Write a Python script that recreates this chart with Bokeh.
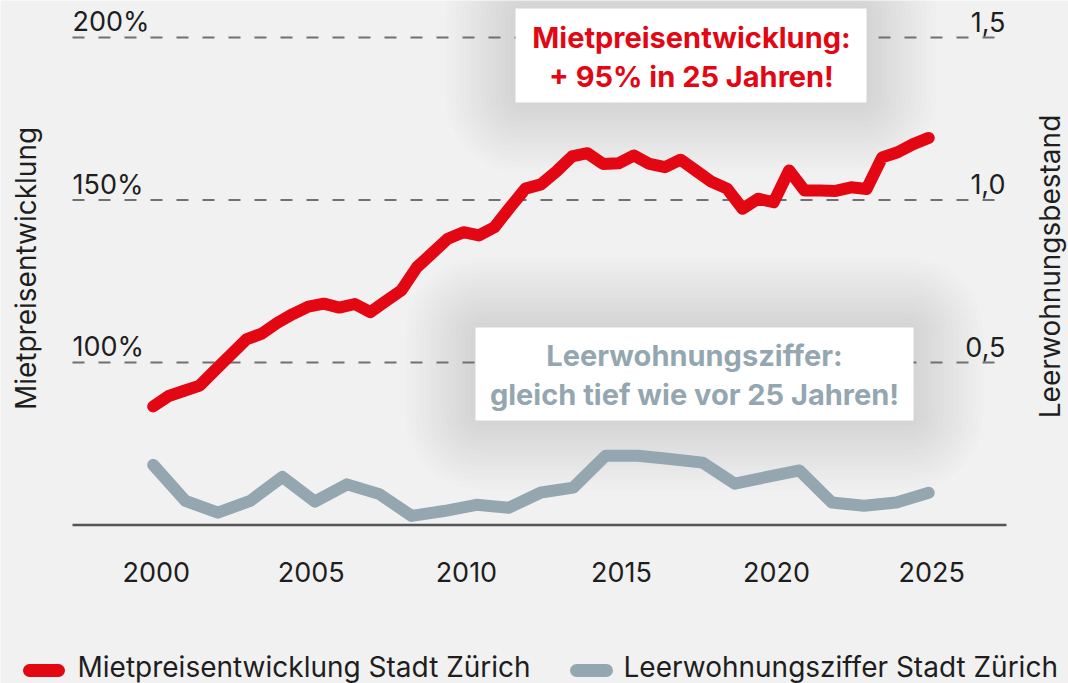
import math
from bokeh.plotting import figure
from bokeh.models import Range1d, BoxAnnotation
from bokeh.core.properties import value
from bokeh.embed import file_html
from bokeh.resources import INLINE

# ---------------- data ----------------
rent_years = [2000 + i / 2 for i in range(51)]  # half-yearly
rent_index = [86.5, 89.7, 91.3, 92.9, 97.7, 102.4, 107.1, 108.9, 112.2, 114.9,
              117.2, 118.1, 116.9, 118.0, 115.5, 118.9, 122.2, 129.3, 133.7, 138.1,
              140.1, 139.1, 141.6, 147.7, 153.5, 154.8, 158.8, 163.4, 164.4, 161.1,
              161.3, 163.7, 161.1, 160.1, 162.4, 159.0, 155.6, 153.5, 147.3, 150.4,
              149.3, 159.1, 152.9, 152.9, 152.8, 153.9, 153.4, 163.1, 164.7, 167.2,
              169.1]
vac_years = [2000 + i * 25 / 24 for i in range(25)]
vacancy = [0.185, 0.074, 0.038, 0.074, 0.148, 0.072, 0.125, 0.095, 0.028, 0.043,
           0.062, 0.053, 0.100, 0.115, 0.213, 0.213, 0.203, 0.192, 0.127, 0.148,
           0.168, 0.069, 0.059, 0.069, 0.099]
rent_ticks = [200, 150, 100]
rent_tick_labels = ["200%", "150%", "100%"]
vac_ticks = [1.5, 1.0, 0.5]
vac_tick_labels = ["1,5", "1,0", "0,5"]
year_ticks = [2000, 2005, 2010, 2015, 2020, 2025]
year_tick_labels = [str(y) for y in year_ticks]
series_names = ["Mietpreisentwicklung Stadt Zürich", "Leerwohnungsziffer Stadt Zürich"]

# ---------------- styles ----------------
RED = "#e30613"
GREY = "#94a7b1"
BG = "#f1f1f1"
TXT = "#1e1e1e"
FONT = value("Inter")

W, H = 1068, 683
PXY = 31.02            # px per year
X0 = 2000 - 152.7 / PXY
PPY = 3.25             # px per percent point
Y_TOP = 200 + 37 / PPY
Y_BOT = Y_TOP - H / PPY


def xd(px):
    return X0 + px / PXY


def yd(py):
    return Y_TOP - py / PPY


p = figure(width=W, height=H, output_backend="svg", toolbar_location=None,
           x_range=Range1d(X0, X0 + W / PXY), y_range=Range1d(Y_BOT, Y_TOP),
           x_axis_location=None, y_axis_location=None, min_border=0,
           background_fill_color=BG, border_fill_color=BG, outline_line_color=None)
p.grid.visible = False
p.extra_y_ranges = {"vac": Range1d((Y_BOT - 50) / 100, (Y_TOP - 50) / 100)}

# soft shadows behind annotation boxes
boxes = [(515, 8, 866, 102), (475, 327, 913, 420)]
for (l, t, r, b) in boxes:
    for k in range(1, 15):
        e = 5 * k
        p.add_layout(BoxAnnotation(left=xd(l - e), right=xd(r + e), top=yd(t - e), bottom=yd(b + e),
                                   fill_color="black", fill_alpha=0.0075, line_color=None,
                                   border_radius=e + 6, level="underlay"))

# grid lines
p.segment(x0=[xd(72)] * 3, y0=rent_ticks, x1=[xd(1006)] * 3, y1=rent_ticks,
          line_color="#707070", line_width=2, line_dash="12 14")
# base line
p.segment(x0=[xd(72)], y0=[50], x1=[xd(1006)], y1=[50], line_color="#555555", line_width=2.5)

# series
p.line(rent_years, rent_index, line_color=RED, line_width=12, line_cap="round", line_join="round")
p.line(vac_years, vacancy, y_range_name="vac", line_color=GREY, line_width=12,
       line_cap="round", line_join="round")

# tick labels (cap centre sits ~16 px above each grid line)
lift = 16 / PPY
p.text(x=[xd(72)] * 3, y=[t + lift for t in rent_ticks], text=rent_tick_labels, text_font=FONT,
       text_font_size="27px", text_color=TXT, text_align="left", text_baseline="middle")
p.text(x=[xd(1005)] * 3, y=[t + lift / 100 for t in vac_ticks], y_range_name="vac", text=vac_tick_labels,
       text_font=FONT, text_font_size="27px", text_color=TXT, text_align="right", text_baseline="middle")
p.text(x=year_ticks, y=[yd(571)] * len(year_ticks), text=year_tick_labels, text_font=FONT,
       text_font_size="27px", text_color=TXT, text_align="center", text_baseline="middle", x_offset=3)

# axis titles
p.text(x=[xd(25)], y=[yd(268)], text=["Mietpreisentwicklung"], angle=math.pi / 2, text_font=FONT,
       text_font_size="28px", text_color=TXT, text_align="center", text_baseline="middle")
p.text(x=[xd(1049)], y=[yd(266)], text=["Leerwohnungsbestand"], angle=math.pi / 2, text_font=FONT,
       text_font_size="28px", text_color=TXT, text_align="center", text_baseline="middle")

# annotation boxes
p.quad(left=[xd(b[0]) for b in boxes], right=[xd(b[2]) for b in boxes],
       top=[yd(b[1]) for b in boxes], bottom=[yd(b[3]) for b in boxes],
       fill_color="white", line_color=None)
p.text(x=[xd(691)] * 2, y=[yd(37), yd(76)], text=["Mietpreisentwicklung:", "+ 95% in 25 Jahren!"],
       text_font=FONT, text_font_style="bold", text_font_size="29px", text_color=RED,
       text_align="center", text_baseline="middle")
p.text(x=[xd(694)] * 2, y=[yd(355), yd(394)], text=["Leerwohnungsziffer:", "gleich tief wie vor 25 Jahren!"],
       text_font=FONT, text_font_style="bold", text_font_size="29px", text_color=GREY,
       text_align="center", text_baseline="middle")

# legend
p.segment(x0=[xd(29), xd(576)], y0=[yd(670)] * 2, x1=[xd(58), xd(606)], y1=[yd(670)] * 2,
          line_color=[RED, GREY], line_width=13, line_cap="round")
p.text(x=[xd(77), xd(623)], y=[yd(666)] * 2, text=series_names, text_font=FONT,
       text_font_size="28px", text_color=TXT, text_align="left", text_baseline="middle")

open("out.html", "w").write(file_html(p, INLINE))
